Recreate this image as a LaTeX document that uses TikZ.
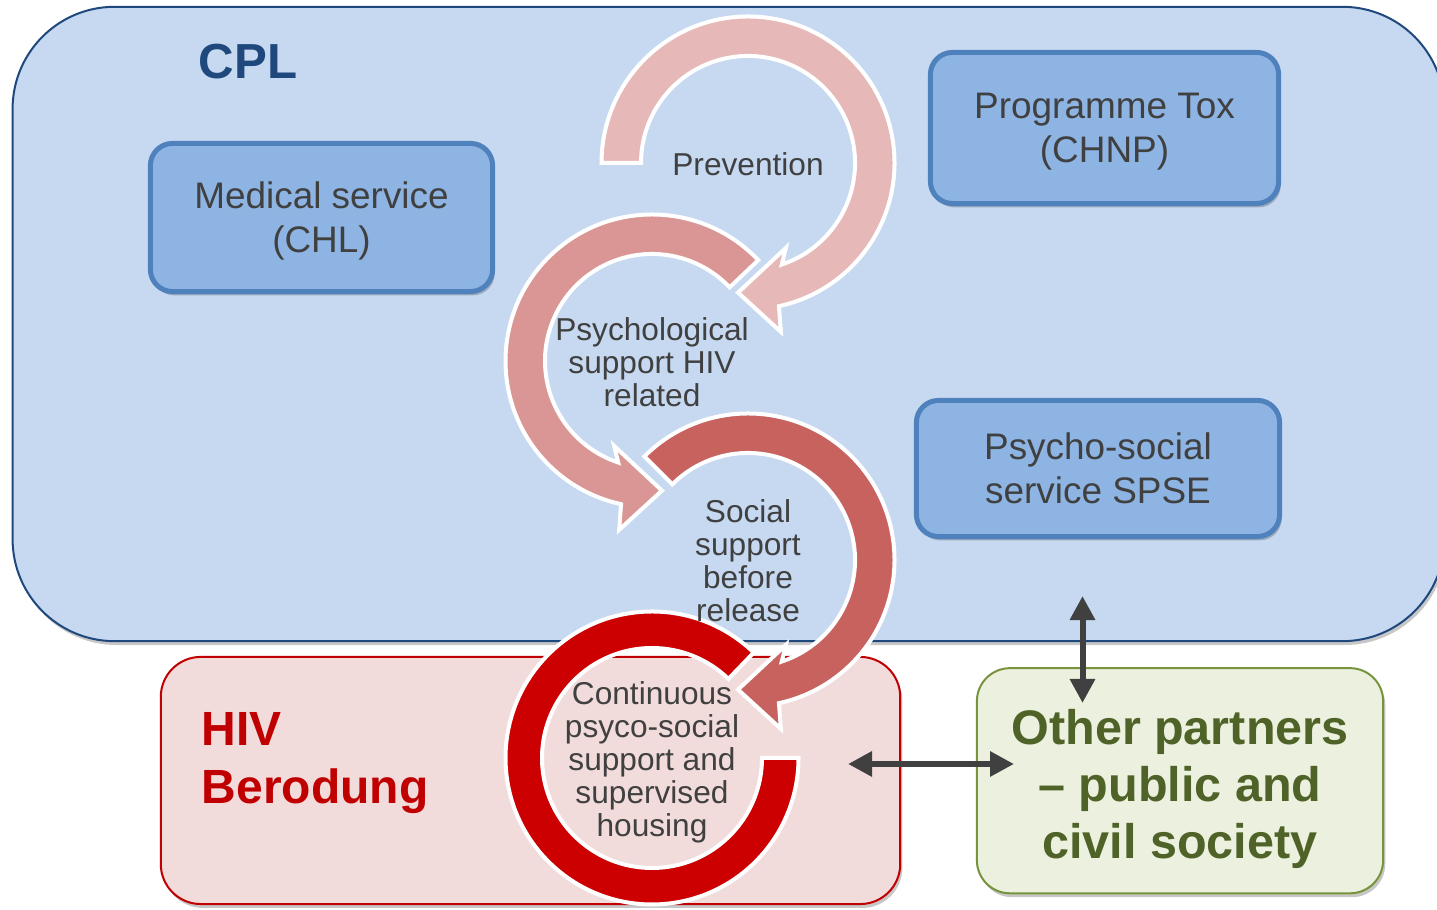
\documentclass[tikz,border=0pt]{standalone}
\usepackage{fontspec}
\setmainfont{Liberation Sans}
\usetikzlibrary{arrows.meta,shadows}
\definecolor{cplfill}{HTML}{C6D9F1}
\definecolor{cplline}{HTML}{1F497D}
\definecolor{boxfill}{HTML}{8EB4E3}
\definecolor{boxline}{HTML}{4F81BD}
\definecolor{txtgray}{HTML}{404040}
\definecolor{hivfill}{HTML}{F2DCDB}
\definecolor{hivline}{HTML}{C00000}
\definecolor{othfill}{HTML}{EBF1DE}
\definecolor{othline}{HTML}{77933C}
\definecolor{othtext}{HTML}{4F6228}
\definecolor{arrA}{HTML}{E6B9B8}
\definecolor{arrB}{HTML}{D99694}
\definecolor{arrC}{HTML}{C8625F}
\definecolor{arrD}{HTML}{CC0000}
\definecolor{conn}{HTML}{404040}

\newcommand\cycarrowcw[3]{%
  \begin{scope}[shift={#1}]
  \path[cyc, fill=#3] (#2:146.5) arc[start angle=#2, end angle=-77.8, radius=146.5]
     -- (-79:172) -- (-94.4:130) -- (-66:93) -- (-71.6:107)
     arc[start angle=-71.6, end angle=#2, radius=107] -- cycle;
  \end{scope}}
\newcommand\cycarrowccw[3]{%
  \begin{scope}[shift={#1}]
  \path[cyc, fill=#3] (#2:146.5) arc[start angle=#2, end angle=257.8, radius=146.5]
     -- (259:172) -- (274.4:130) -- (246:93) -- (251.6:107)
     arc[start angle=251.6, end angle=#2, radius=107] -- cycle;
  \end{scope}}

\begin{document}
\begin{tikzpicture}[x=0.01cm,y=0.01cm,
  softshadow/.style={drop shadow={shadow xshift=0.6pt,shadow yshift=-1.1pt,opacity=0.22,fill=black}},
  bluebox/.style={draw=boxline, fill=boxfill, line width=0.05cm, rounded corners=0.22cm,
     text=txtgray, align=center, font=\fontsize{10.5}{12.5}\selectfont, inner sep=0pt,
     text depth=0pt, softshadow},
  cyc/.style={draw=white, line width=0.04cm, line join=miter},
  cyctext/.style={text=txtgray, align=center, font=\fontsize{9}{9.4}\selectfont, inner sep=0pt},
  dblarrow/.style={{Triangle[length=0.24cm,width=0.24cm]}-{Triangle[length=0.24cm,width=0.24cm]},
     line width=0.06cm, draw=conn},
]
\useasboundingbox (0,0) rectangle (1437,910);
\clip (0,0) rectangle (1437,910);

% containers
\node[draw=cplline, fill=cplfill, line width=0.02cm, rounded corners=1.02cm,
      minimum width=14.31cm, minimum height=6.34cm, inner sep=0pt, softshadow] (cpl) at (728.5,586) {};
\node[draw=hivline, fill=hivfill, line width=0.02cm, rounded corners=0.4cm,
      minimum width=7.39cm, minimum height=2.47cm, inner sep=0pt, softshadow] (hiv) at (530.5,129.5) {};
\node[draw=othline, fill=othfill, line width=0.02cm, rounded corners=0.33cm,
      minimum width=4.06cm, minimum height=2.25cm, inner sep=0pt, softshadow] (oth) at (1180,129.25) {};

% blue boxes
\node[bluebox, minimum width=3.42cm, minimum height=1.48cm] (med) at (321.5,692.5) {Medical service\\(CHL)};
\node[bluebox, minimum width=3.48cm, minimum height=1.51cm] (tox) at (1104.5,782) {Programme Tox\\(CHNP)};
\node[bluebox, minimum width=3.63cm, minimum height=1.36cm] (spse) at (1098,441.5) {Psycho-social\\service SPSE};

% circular arrows
\cycarrowcw{(748,747)}{180}{arrA}
\cycarrowccw{(652,549)}{43.5}{arrB}
\cycarrowcw{(748,350)}{135}{arrC}
\begin{scope}[shift={(652,152)}]
  \path[cyc, fill=arrD] (46:146.5) arc[start angle=46, end angle=360, radius=146.5]
     -- (0:110) arc[start angle=360, end angle=46, radius=110] -- cycle;
\end{scope}

% texts
\node[text=cplline, font=\bfseries\fontsize{14}{16}\selectfont, inner sep=0pt] (cplt) at (248,848) {CPL};
\node[cyctext] (prev) at (748,746) {Prevention};
\node[cyctext] (psy) at (652,548) {Psychological\\support HIV\\related};
\node[cyctext] (soc) at (748,349) {Social\\support\\before\\release};
\node[cyctext] (cont) at (652,148) {Continuous\\psyco-social\\support and\\supervised\\housing};
\node[anchor=west, text=hivline, font=\bfseries\fontsize{13.65}{16.5}\selectfont, align=left, inner sep=0pt] (hivt) at (201,147) {HIV\\Berodung};
\node[text=othtext, font=\bfseries\fontsize{13.8}{16.2}\selectfont, align=center, inner sep=0pt] (otht) at (1180,121) {Other partners\\– public and\\civil society};

% connectors
\coordinate (vtop) at (1082.5,314);
\coordinate (vbot) at (1082.5,207);
\draw[dblarrow] (vtop) -- (vbot);
\coordinate (hl) at (848,146);
\coordinate (hr) at (1014,146);
\draw[dblarrow] (hl) -- (hr);
\end{tikzpicture}
\end{document}
